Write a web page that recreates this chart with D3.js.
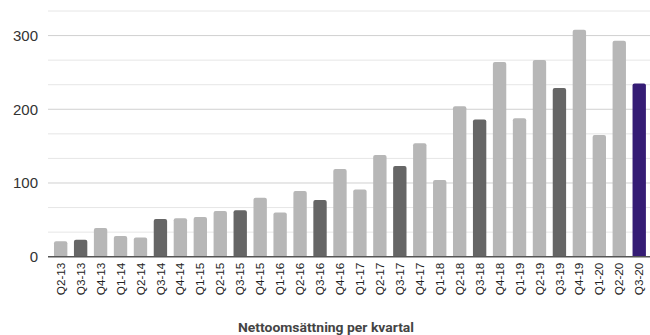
<!DOCTYPE html>
<html>
<head>
<meta charset="utf-8">
<script src="https://cdn.jsdelivr.net/npm/d3@7"></script>
<style>
  html, body { margin: 0; padding: 0; background: #fff; }
  svg { display: block; }
</style>
</head>
<body>
<svg id="chart" width="650" height="335"></svg>
<script>
// Net sales per quarter (MSEK)
const quarters = ["Q2-13","Q3-13","Q4-13","Q1-14","Q2-14","Q3-14","Q4-14","Q1-15","Q2-15","Q3-15",
  "Q4-15","Q1-16","Q2-16","Q3-16","Q4-16","Q1-17","Q2-17","Q3-17","Q4-17","Q1-18",
  "Q2-18","Q3-18","Q4-18","Q1-19","Q2-19","Q3-19","Q4-19","Q1-20","Q2-20","Q3-20"];
const netSales = [21, 23, 39, 28, 26, 51, 52, 54, 62, 63,
  80, 60, 89, 77, 119, 91, 138, 123, 154, 104,
  204, 186, 264, 188, 267, 229, 308, 165, 293, 235];
const yTicks = [0, 100, 200, 300];
const chartTitle = "Nettoomsättning per kvartal";

const svg = d3.select("#chart");
const plotLeft = 48, plotRight = 650, plotTop = 11, plotBase = 256.7;
const yMax = 1000 / 3;

const x = d3.scaleBand().domain(quarters).range([50.7, 649.2]).paddingInner(0.33).paddingOuter(0.165);
const y = d3.scaleLinear().domain([0, yMax]).range([plotBase, plotTop]);

// gridlines every third of a hundred, labelled at each hundred
const gridVals = d3.range(1, 11).map(i => i * 100 / 3);
svg.append("g").selectAll("line").data(gridVals).join("line")
  .attr("x1", plotLeft).attr("x2", plotRight)
  .attr("y1", d => y(d)).attr("y2", d => y(d))
  .attr("stroke", (d, i) => (i + 1) % 3 === 0 ? "#d0d0d0" : "#e6e6e6")
  .attr("stroke-width", 1);

// y axis labels
const yAxis = d3.axisLeft(y).tickValues(yTicks).tickSize(0).tickPadding(0);
const gy = svg.append("g").attr("transform", `translate(${plotLeft - 10},0)`).call(yAxis);
gy.select(".domain").remove();
gy.selectAll("text")
  .attr("font-family", "'Liberation Sans', Arial, sans-serif")
  .attr("font-size", 15).attr("fill", "#333");

// bars with slightly rounded tops
function barPath(d, i) {
  const x0 = x(quarters[i]), w = x.bandwidth(), y0 = y(d), r = 2;
  return `M${x0},${plotBase}V${y0 + r}Q${x0},${y0} ${x0 + r},${y0}H${x0 + w - r}Q${x0 + w},${y0} ${x0 + w},${y0 + r}V${plotBase}Z`;
}
function barColor(q) {
  if (q === "Q3-20") return "#351c75";
  if (q.startsWith("Q3")) return "#666666";
  return "#b7b7b7";
}
svg.append("g").selectAll("path").data(netSales).join("path")
  .attr("d", barPath)
  .attr("fill", (d, i) => barColor(quarters[i]));

// baseline
svg.append("line").attr("x1", plotLeft).attr("x2", plotRight)
  .attr("y1", plotBase).attr("y2", plotBase)
  .attr("stroke", "#555").attr("stroke-width", 1.5);

// x axis labels, rotated
const xAxis = d3.axisBottom(x).tickSize(0).tickPadding(0);
const gx = svg.append("g").attr("transform", `translate(0,${plotBase})`).call(xAxis);
gx.select(".domain").remove();
gx.selectAll("text")
  .attr("font-family", "'Liberation Sans', Arial, sans-serif")
  .attr("font-size", 11.7).attr("fill", "#222")
  .attr("text-anchor", "end")
  .attr("dy", "0.35em")
  .attr("transform", "translate(0,6) rotate(-90)")
  .attr("x", 0).attr("y", 0);

// title
svg.append("text")
  .attr("x", 326).attr("y", 332)
  .attr("text-anchor", "middle")
  .attr("font-family", "Roboto, sans-serif")
  .attr("font-weight", "bold")
  .attr("font-size", 13.5)
  .attr("fill", "#444")
  .attr("textLength", 176).attr("lengthAdjust", "spacingAndGlyphs")
  .text(chartTitle);
</script>
</body>
</html>
